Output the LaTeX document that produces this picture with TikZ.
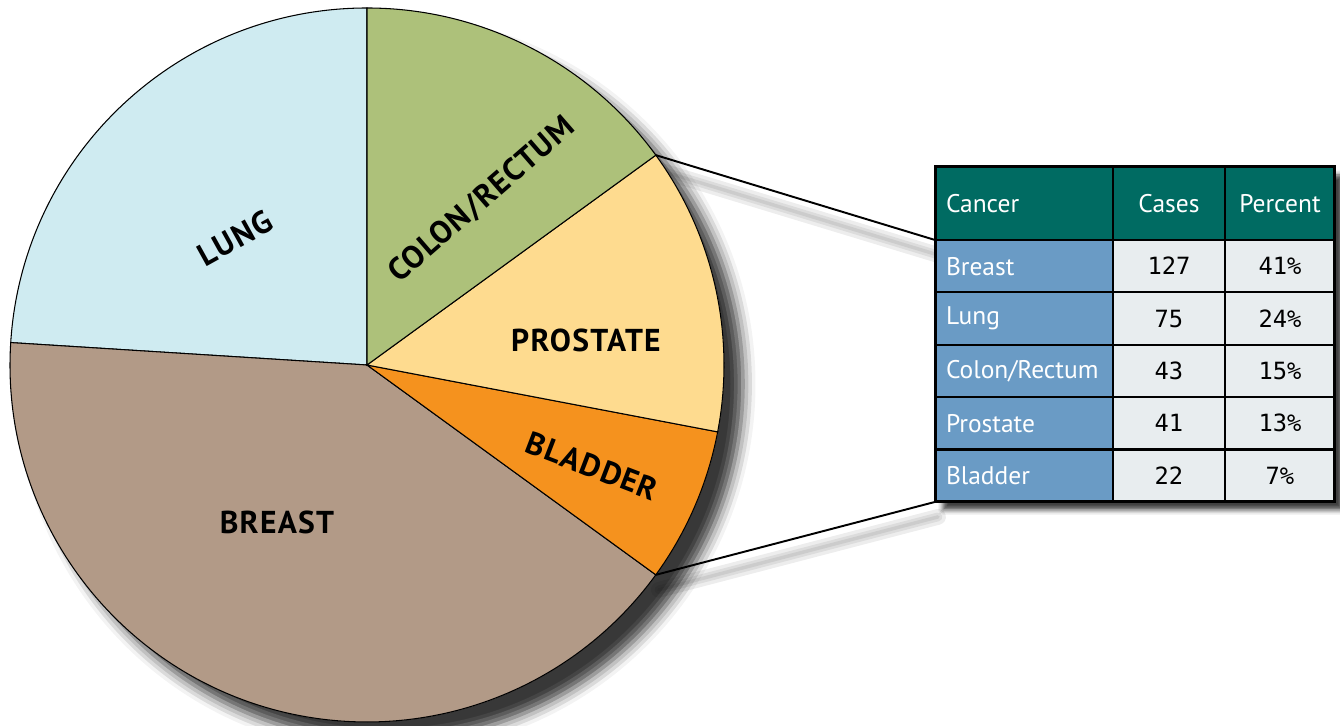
\documentclass[tikz,border=0pt]{standalone}
\usepackage{fontspec}
\usepackage{tikz}
\usetikzlibrary{positioning,shadows.blur,backgrounds}
\setmainfont{PT Sans}
\newfontfamily\slicefont[LetterSpace=4]{PT Sans}
\newfontfamily\numfont{DejaVu Sans Mono}

\definecolor{lungblue}{HTML}{CFEBF1}
\definecolor{colongreen}{HTML}{ADC17A}
\definecolor{prostyellow}{HTML}{FEDB8F}
\definecolor{bladorange}{HTML}{F5921E}
\definecolor{breasttan}{HTML}{B29A87}
\definecolor{tabhead}{HTML}{006B62}
\definecolor{tabblue}{HTML}{6A9BC5}
\definecolor{tabgrey}{HTML}{E8EDEF}

\begin{document}
\begin{tikzpicture}[
    x=0.02cm, y=0.02cm,
    slice/.style={draw=black, line width=0.6pt},
    slicelabel/.style={font=\slicefont\bfseries\fontsize{18}{20}\selectfont, inner sep=0pt},
    cell/.style={draw=black, line width=1.2pt, outer sep=0pt, minimum height=1.048cm},
    headcell/.style={cell, fill=tabhead, text=white, minimum height=1.46cm, font=\fontsize{14.5}{17}\selectfont},
    namecell/.style={cell, fill=tabblue, text=white, font=\fontsize{14.5}{17}\selectfont},
    numcell/.style={cell, fill=tabgrey, text=black, font=\numfont\fontsize{13.5}{15}\selectfont},
    leftcol/.style={inner xsep=0.22cm, text width=3.12cm, align=left},
    link/.style={draw=black, line width=1.1pt},
    linkshadow/.style={draw=black, opacity=0.07, line cap=round}
]
\useasboundingbox (0,0) rectangle (1340,726);

% Pie centre and rim points for the zoom lines
\coordinate (pc) at (367,361);
\path (pc) ++(36:357) coordinate (rimtop);
\path (pc) ++(324:357) coordinate (rimbot);

% Table
\node[headcell, leftcol, anchor=north west] (hcancer) at (935,559) {Cancer};
\node[headcell, minimum width=2.24cm, right=0pt of hcancer] (hcases) {Cases};
\node[headcell, minimum width=2.2cm, right=0pt of hcases] (hpct) {Percent};

\node[namecell, leftcol, below=0pt of hcancer] (breast) {Breast};
\node[numcell, minimum width=2.24cm, right=0pt of breast] (breastn) {127};
\node[numcell, minimum width=2.2cm, right=0pt of breastn] (breastp) {41\%};

\node[namecell, leftcol, below=0pt of breast] (lung) {Lung};
\node[numcell, minimum width=2.24cm, right=0pt of lung] (lungn) {75};
\node[numcell, minimum width=2.2cm, right=0pt of lungn] (lungp) {24\%};

\node[namecell, leftcol, below=0pt of lung] (colon) {Colon/Rectum};
\node[numcell, minimum width=2.24cm, right=0pt of colon] (colonn) {43};
\node[numcell, minimum width=2.2cm, right=0pt of colonn] (colonp) {15\%};

\node[namecell, leftcol, below=0pt of colon] (prost) {Prostate};
\node[numcell, minimum width=2.24cm, right=0pt of prost] (prostn) {41};
\node[numcell, minimum width=2.2cm, right=0pt of prostn] (prostp) {13\%};

\node[namecell, leftcol, below=0pt of prost] (blad) {Bladder};
\node[numcell, minimum width=2.24cm, right=0pt of blad] (bladn) {22};
\node[numcell, minimum width=2.2cm, right=0pt of bladn] (bladp) {7\%};

\draw[line width=1.7pt] (hcancer.north west) rectangle (bladp.south east);

\begin{pgfonlayer}{background}
% soft shadows of the zoom lines
\begin{scope}[transform canvas={xshift=0.06cm, yshift=-0.3cm}]
\draw[linkshadow, line width=9pt] (rimtop) -- (hcancer.south west);
\draw[linkshadow, line width=5pt] (rimtop) -- (hcancer.south west);
\draw[linkshadow, line width=2pt] (rimtop) -- (hcancer.south west);
\draw[linkshadow, line width=9pt] (rimbot) -- (blad.south west);
\draw[linkshadow, line width=5pt] (rimbot) -- (blad.south west);
\draw[linkshadow, line width=2pt] (rimbot) -- (blad.south west);
\end{scope}

% table shadow
\fill[white, blur shadow={shadow xshift=0.16cm, shadow yshift=-0.16cm, shadow blur radius=0.1cm, shadow opacity=75}]
    (hcancer.north west) rectangle (bladp.south east);

% pie shadow
\fill[white, blur shadow={shadow xshift=0.38cm, shadow yshift=-0.38cm, shadow blur radius=0.25cm, shadow opacity=78}]
    (pc) circle[radius=357];

% slices
\filldraw[slice, fill=lungblue] (pc) -- ++(90:357) arc[start angle=90, end angle=176.4, radius=357] -- cycle;
\filldraw[slice, fill=breasttan] (pc) -- ++(176.4:357) arc[start angle=176.4, end angle=324, radius=357] -- cycle;
\filldraw[slice, fill=bladorange] (pc) -- ++(324:357) arc[start angle=324, end angle=349.2, radius=357] -- cycle;
\filldraw[slice, fill=prostyellow] (pc) -- ++(349.2:357) arc[start angle=349.2, end angle=396, radius=357] -- cycle;
\filldraw[slice, fill=colongreen] (pc) -- ++(36:357) arc[start angle=36, end angle=90, radius=357] -- cycle;
\end{pgfonlayer}

% slice labels
\node[slicelabel, rotate=29] (lbllung) at (235,488) {LUNG};
\node[slicelabel, rotate=41] (lblcolon) at (482,526) {COLON/RECTUM};
\node[slicelabel] (lblprost) at (586,386) {PROSTATE};
\node[slicelabel, rotate=-21] (lblblad) at (592,260) {BLADDER};
\node[slicelabel] (lblbreast) at (277,204) {BREAST};

% zoom lines
\draw[link] (rimtop) -- (hcancer.south west);
\draw[link] (rimbot) -- (blad.south west);

\end{tikzpicture}
\end{document}
